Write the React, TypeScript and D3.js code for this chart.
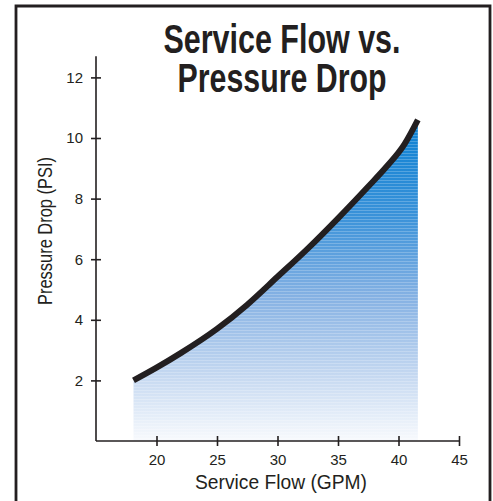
import { useEffect, useRef } from "react";
import * as d3 from "d3";

// service flow (GPM) vs pressure drop (PSI)
const flow = [18.1, 20, 22, 25, 27.5, 30, 32.5, 35, 37.5, 39, 40.5, 41.6];
const pressure = [2.0, 2.42, 2.9, 3.7, 4.5, 5.42, 6.35, 7.35, 8.4, 9.05, 9.8, 10.6];
const xTicks = [20, 25, 30, 35, 40, 45];
const yTicks = [2, 4, 6, 8, 10, 12];
const titleLines = ["Service Flow vs.", "Pressure Drop"];

export default function App() {
  const ref = useRef<SVGSVGElement>(null);

  useEffect(() => {
    const svg = d3.select(ref.current);
    svg.selectAll("*").remove();

    const font = "'Liberation Sans', Arial, sans-serif";
    const x = d3.scaleLinear().domain([15, 45]).range([96, 459]);
    const y = d3.scaleLinear().domain([0, 12]).range([441, 77.4]);
    const data = flow.map((f, i) => ({ f, p: pressure[i] }));

    // frame (bottom edge is cut off in the original)
    svg.append("path")
      .attr("d", "M16,510 L16,6 L490,6 L490,510")
      .attr("fill", "none")
      .attr("stroke", "#231f20")
      .attr("stroke-width", 2.8);

    const defs = svg.append("defs");
    const grad = defs.append("linearGradient")
      .attr("id", "fillGrad")
      .attr("gradientUnits", "userSpaceOnUse")
      .attr("x1", 0).attr("x2", 0)
      .attr("y1", y(10.6)).attr("y2", y(0));
    [
      [0, "#0a80d2"],
      [0.3, "#3a92d9"],
      [0.55, "#85b1e3"],
      [0.8, "#c6d9f1"],
      [1, "#f8fafd"]
    ].forEach(([o, c]) => grad.append("stop").attr("offset", o as number).attr("stop-color", c as string));

    const pat = defs.append("pattern")
      .attr("id", "stripes")
      .attr("patternUnits", "userSpaceOnUse")
      .attr("width", 10).attr("height", 3);
    pat.append("rect").attr("width", 10).attr("height", 1).attr("fill", "#fff").attr("opacity", 0.22);

    const area = d3.area<{ f: number; p: number }>()
      .x(d => x(d.f))
      .y0(y(0))
      .y1(d => y(d.p))
      .curve(d3.curveMonotoneX);

    svg.append("path").datum(data).attr("d", area).attr("fill", "url(#fillGrad)");
    svg.append("path").datum(data).attr("d", area).attr("fill", "url(#stripes)");

    // axes, ticks cross the axis line
    const xAxis = svg.append("g").attr("transform", `translate(0,${y(0)})`)
      .call(d3.axisBottom(x).tickValues(xTicks).tickSizeInner(5).tickSizeOuter(0).tickPadding(8));
    xAxis.select(".domain").attr("d", `M${x(15)},0H${x(45)}`);
    xAxis.selectAll(".tick line").attr("y1", -5);

    const yAxis = svg.append("g").attr("transform", `translate(${x(15)},0)`)
      .call(d3.axisLeft(y).tickValues(yTicks).tickSizeInner(5).tickSizeOuter(0).tickPadding(8));
    yAxis.select(".domain").attr("d", `M0,${y(0)}V${y(12.7)}`);
    yAxis.selectAll(".tick line").attr("x1", 5);

    svg.selectAll(".domain, .tick line").attr("stroke", "#231f20").attr("stroke-width", 1.6);
    svg.selectAll(".tick text")
      .attr("font-family", font)
      .attr("font-size", 15)
      .attr("fill", "#231f20");

    // curve
    svg.append("path").datum(data)
      .attr("d", d3.line<{ f: number; p: number }>().x(d => x(d.f)).y(d => y(d.p)).curve(d3.curveMonotoneX))
      .attr("fill", "none")
      .attr("stroke", "#231f20")
      .attr("stroke-width", 6);

    // axis titles
    svg.append("text")
      .attr("x", 281).attr("y", 489)
      .attr("text-anchor", "middle")
      .attr("font-family", font).attr("font-size", 20)
      .attr("textLength", 172).attr("lengthAdjust", "spacingAndGlyphs")
      .attr("fill", "#231f20")
      .text("Service Flow (GPM)");

    svg.append("text")
      .attr("transform", "translate(52,231) rotate(-90)")
      .attr("text-anchor", "middle")
      .attr("font-family", font).attr("font-size", 20)
      .attr("textLength", 148).attr("lengthAdjust", "spacingAndGlyphs")
      .attr("fill", "#231f20")
      .text("Pressure Drop (PSI)");

    // title, condensed bold
    const widths = [237, 209];
    titleLines.forEach((t, i) => {
      svg.append("text")
        .attr("x", 282).attr("y", 52.5 + i * 39)
        .attr("text-anchor", "middle")
        .attr("font-family", font).attr("font-weight", "bold").attr("font-size", 40)
        .attr("textLength", widths[i]).attr("lengthAdjust", "spacingAndGlyphs")
        .attr("fill", "#231f20")
        .text(t);
    });
  }, []);

  return (
    <svg
      ref={ref}
      width={493}
      height={501}
      style={{ position: "absolute", left: 0, top: 0, background: "#fff" }}
    />
  );
}
